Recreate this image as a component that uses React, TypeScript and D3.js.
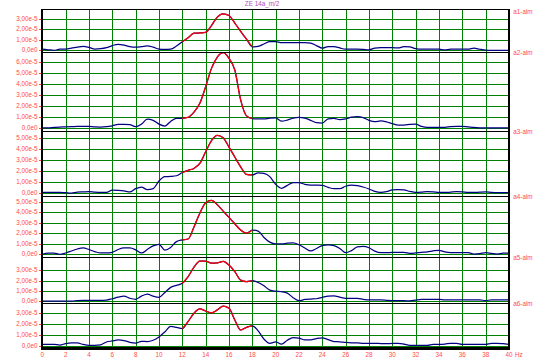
import React from "react";
import * as d3 from "d3";

// ---- data (amplitudes in units of 1e-5 m/s², sampled every 0.5 Hz from 0 to 40 Hz) ----
const FREQS = d3.range(0, 40.001, 0.5);
const X_TICKS = d3.range(0, 41, 2);
const TITLE = "ZE 14a_m/2";
const PANEL_LABELS = ["a1-alm", "a2-alm", "a3-alm", "a4-alm", "a5-alm", "a6-alm"];
const PANEL_TICKS = [3, 6, 5, 5, 3, 3];
const PANEL_MIN = [-0.19, -0.3, -0.3, -0.29, -0.19, -0.27];
const PANEL_MAX = [3.89, 6.88, 5.65, 5.51, 4.26, 3.85];
const HILITE = [12, 18];
const UNIT = 1e-5;

const S1 = [
  0.1, 0.05, 0, 0.1, 0.12, 0.2, 0.3, 0.38, 0.28, 0.12,
  0.15, 0.25, 0.45, 0.57, 0.5, 0.35, 0.3, 0.35, 0.42, 0.3,
  0.12, 0.08, 0.1, 0.4, 0.82, 1.2, 1.62, 1.65, 1.7, 2.35,
  3.15, 3.46, 3.3, 2.58, 1.8, 1.05, 0.33, 0.38, 0.6, 0.82,
  0.82, 0.72, 0.72, 0.72, 0.72, 0.72, 0.68, 0.45, 0.2, 0.35,
  0.35, 0.22, 0.1, 0.1, 0.1, 0.08, 0.05, 0.2, 0.25, 0.25,
  0.25, 0.22, 0.35, 0.32, 0.15, 0.1, 0.1, 0.1, 0.1, 0.05,
  0.1, 0.1, 0.1, 0.1, 0.2, 0.1, 0.02, 0, 0, 0, 0,
];
const S2 = [
  0, 0, 0.05, 0.09, 0.1, 0.12, 0.15, 0.15, 0.15, 0.1,
  0.09, 0.12, 0.2, 0.32, 0.33, 0.3, 0.12, 0.35, 0.8, 0.7,
  0.35, 0.18, 0.6, 0.88, 0.88, 0.98, 1.45, 2.24, 3.75, 5.42,
  6.45, 6.85, 6.33, 5.27, 2.55, 1.1, 0.85, 0.82, 0.82, 0.9,
  0.92, 0.62, 0.72, 0.9, 0.97, 0.9, 0.7, 0.48, 0.45, 0.84,
  0.88, 0.75, 0.82, 0.98, 1.03, 0.95, 0.7, 0.58, 0.64, 0.56,
  0.4, 0.27, 0.27, 0.32, 0.35, 0.15, 0.06, 0.06, 0.06, 0.06,
  0.12, 0.15, 0.15, 0.1, 0.05, 0.02, 0, 0, 0, 0, 0,
];
const S3 = [
  0.06, 0.06, 0.06, 0.06, 0.03, 0.0, 0.08, 0.1, 0.12, 0.08,
  0.06, 0.06, 0.27, 0.25, 0.2, 0.1, 0.4, 0.55, 0.3, 0.4,
  1.1, 1.49, 1.52, 1.58, 1.88, 2.08, 2.25, 2.71, 3.78, 4.8,
  5.28, 5.06, 4.2, 3.3, 2.4, 1.71, 1.65, 1.85, 1.8, 1.5,
  0.8, 0.43, 0.7, 0.95, 0.95, 0.8, 0.73, 0.72, 0.7, 0.52,
  0.4, 0.4, 0.62, 0.72, 0.68, 0.55, 0.37, 0.15, 0.06, 0.12,
  0.28, 0.32, 0.28, 0.15, 0.06, 0.08, 0.12, 0.1, 0.06, 0.05,
  0.08, 0.12, 0.1, 0.05, 0.05, 0.08, 0.1, 0.05, 0.03, 0.03, 0.03,
];
const S4 = [
  0, 0.1, 0.1, 0, 0.12, 0.31, 0.5, 0.6, 0.45, 0.25,
  0.12, 0.12, 0.18, 0.45, 0.6, 0.6, 0.42, 0.12, 0.45, 0.8,
  0.95, 0.4, 0.65, 1.2, 1.36, 1.45, 2.6, 3.9, 4.9, 5.12,
  4.7, 4.1, 3.5, 2.9, 2.3, 2.0, 2.3, 2.2, 1.6, 1.15,
  0.98, 0.98, 1.05, 1.08, 0.9, 0.6, 0.31, 0.55, 0.82, 0.9,
  0.82, 0.55, 0.15, 0.35, 0.7, 0.75, 0.62, 0.3, 0.15, 0.15,
  0.17, 0.17, 0.17, 0.08, 0.12, 0.18, 0.22, 0.32, 0.38, 0.22,
  0.15, 0.15, 0.15, 0.15, 0.02, 0.05, 0.15, 0.08, 0.02, 0.1, 0.1,
];
const S5 = [
  0.03, 0.03, 0.03, 0.03, 0.03, 0.03, 0.08, 0.1, 0.1, 0.1,
  0.1, 0.12, 0.25, 0.4, 0.5, 0.3, 0.2, 0.5, 0.7, 0.5,
  0.39, 0.85, 1.35, 1.55, 1.75, 2.4, 3.3, 3.9, 3.88, 3.7,
  3.72, 3.87, 3.51, 2.87, 2.05, 1.9, 2.0, 1.82, 1.5, 1.09,
  0.98, 0.93, 0.8, 0.35, 0.06, 0.18, 0.22, 0.25, 0.38, 0.5,
  0.52, 0.4, 0.29, 0.29, 0.29, 0.2, 0.13, 0.13, 0.13, 0.1,
  0.06, 0.06, 0.06, 0.05, 0.12, 0.18, 0.19, 0.19, 0.19, 0.13,
  0.13, 0.13, 0.13, 0.13, 0.13, 0.13, 0.08, 0.13, 0.13, 0.13, 0.13,
];
const S6 = [
  0.13, 0.13, 0.13, 0.06, 0.2, 0.27, 0.25, 0.12, 0.04, 0.04,
  0.08, 0.34, 0.43, 0.52, 0.47, 0.31, 0.24, 0.4, 0.38, 0.5,
  0.8, 1.25, 1.75, 1.67, 1.55, 2.2, 2.95, 3.34, 3.15, 2.98,
  3.25, 3.6, 3.4, 2.34, 1.43, 1.67, 1.8, 1.35, 0.6, 0.22,
  0.35, 0.15, 0.5, 0.74, 0.7, 0.52, 0.52, 0.65, 0.72, 0.55,
  0.38, 0.36, 0.3, 0.27, 0.27, 0.22, 0.22, 0.22, 0.2, 0.18,
  0.22, 0.22, 0.15, 0.04, 0.04, 0.04, 0.04, 0.13, 0.13, 0.15,
  0.22, 0.22, 0.13, 0.13, 0.13, 0.13, 0.13, 0.22, 0.22, 0.18, 0.13,
];
const SERIES = [S1, S2, S3, S4, S5, S6];

// ---- layout ----
const W = 549;
const H = 358;
const X_LEFT = 42.3;
const X_RIGHT = 509;
const BOUNDS = [9.3, 52.3, 131.3, 196.3, 257.3, 303.3, 348.7];
const GRID = "#008000";
const BLUE = "#000080";
const RED = "#ff0000";
const LABEL = "#ff4a4a";
const FONT = "'Liberation Sans', Arial, sans-serif";

const fmt = (v: number) =>
  v === 0 ? "0,0e0" : (v / UNIT).toFixed(2).replace(".", ",") + "e-5";

export default function App() {
  const x = d3.scaleLinear().domain([0, 40]).range([X_LEFT, X_RIGHT]);
  const top = BOUNDS[0];
  const bottom = BOUNDS[BOUNDS.length - 1];

  const panels = SERIES.map((s, i) => {
    const y = d3
      .scaleLinear()
      .domain([PANEL_MIN[i] * UNIT, PANEL_MAX[i] * UNIT])
      .range([BOUNDS[i + 1], BOUNDS[i]]);
    const pts = FREQS.map((f, k) => ({ f, v: s[k] * UNIT }));
    const line = d3
      .line<{ f: number; v: number }>()
      .x((d) => x(d.f))
      .y((d) => y(d.v))
      .curve(d3.curveMonotoneX);
    const hl = pts.filter((d) => d.f >= HILITE[0] && d.f <= HILITE[1]);
    const ticks = d3.range(0, PANEL_TICKS[i] + 1).map((n) => n * UNIT);
    return { y, full: line(pts) || "", red: line(hl) || "", ticks };
  });

  return (
    <svg
      width={W}
      height={H}
      style={{ position: "absolute", left: 0, top: 0, display: "block", background: "#fff" }}
      fontFamily={FONT}
    >
      <rect x={0} y={0} width={W} height={H} fill="#fff" />
      {/* vertical grid */}
      {X_TICKS.filter((t) => t > 0 && t < 40).map((t) => (
        <line
          key={"vx" + t}
          x1={Math.round(x(t)) + 0.5}
          x2={Math.round(x(t)) + 0.5}
          y1={top}
          y2={bottom}
          stroke={GRID}
          strokeWidth={1}
          shapeRendering="crispEdges"
        />
      ))}
      {/* horizontal grid + y labels */}
      {panels.map((p, i) => (
        <g key={"p" + i}>
          {p.ticks.map((t) => {
            const yy = Math.round(p.y(t)) + 0.5;
            return (
              <g key={t}>
                <line
                  x1={X_LEFT}
                  x2={X_RIGHT}
                  y1={yy}
                  y2={yy}
                  stroke={GRID}
                  strokeWidth={1}
                  shapeRendering="crispEdges"
                />
                <line x1={38.5} x2={41} y1={yy} y2={yy} stroke={LABEL} strokeWidth={1} shapeRendering="crispEdges" />
                <text
                  x={37.5}
                  y={yy}
                  fontSize={6.3}
                  fill={LABEL}
                  textAnchor="end"
                  dominantBaseline="middle"
                >
                  {fmt(t)}
                </text>
              </g>
            );
          })}
        </g>
      ))}
      {/* series */}
      {panels.map((p, i) => (
        <g key={"s" + i}>
          <path d={p.full} fill="none" stroke={BLUE} strokeWidth={1.25} />
          <path d={p.red} fill="none" stroke={RED} strokeWidth={1.25} />
        </g>
      ))}
      {/* separators */}
      {BOUNDS.slice(1, -1).map((b, i) => (
        <line
          key={"sep" + i}
          x1={X_LEFT}
          x2={X_RIGHT}
          y1={Math.round(b) + 0.5}
          y2={Math.round(b) + 0.5}
          stroke="#000"
          strokeWidth={1.2}
          shapeRendering="crispEdges"
        />
      ))}
      {/* frame */}
      <line x1={X_LEFT} x2={X_RIGHT} y1={top} y2={top} stroke="#000" strokeWidth={1.2} shapeRendering="crispEdges" />
      <line x1={41.8} x2={41.8} y1={top} y2={bottom + 1.5} stroke="#000" strokeWidth={2} shapeRendering="crispEdges" />
      <line x1={X_RIGHT} x2={X_RIGHT} y1={top} y2={bottom + 1.5} stroke="#000" strokeWidth={2} shapeRendering="crispEdges" />
      <line x1={40.8} x2={X_RIGHT + 1} y1={bottom} y2={bottom} stroke="#000" strokeWidth={3} shapeRendering="crispEdges" />
      {/* x labels */}
      {X_TICKS.map((t) => (
        <text key={"xl" + t} x={x(t)} y={357.3} fontSize={6.3} fill={LABEL} textAnchor="middle">
          {t}
        </text>
      ))}
      <text x={x(40) + 6} y={357.3} fontSize={6.3} fill={LABEL} textAnchor="start">
        Hz
      </text>
      {/* panel labels */}
      {PANEL_LABELS.map((l, i) => (
        <text
          key={l}
          x={513.3}
          y={Math.max(BOUNDS[i] + 0.8, 12)}
          fontSize={6.3}
          fill={LABEL}
          dominantBaseline="middle"
        >
          {l}
        </text>
      ))}
      <text x={262} y={4.5} fontSize={6.3} fill="#b050c0" textAnchor="middle" dominantBaseline="middle">
        {TITLE}
      </text>
    </svg>
  );
}
